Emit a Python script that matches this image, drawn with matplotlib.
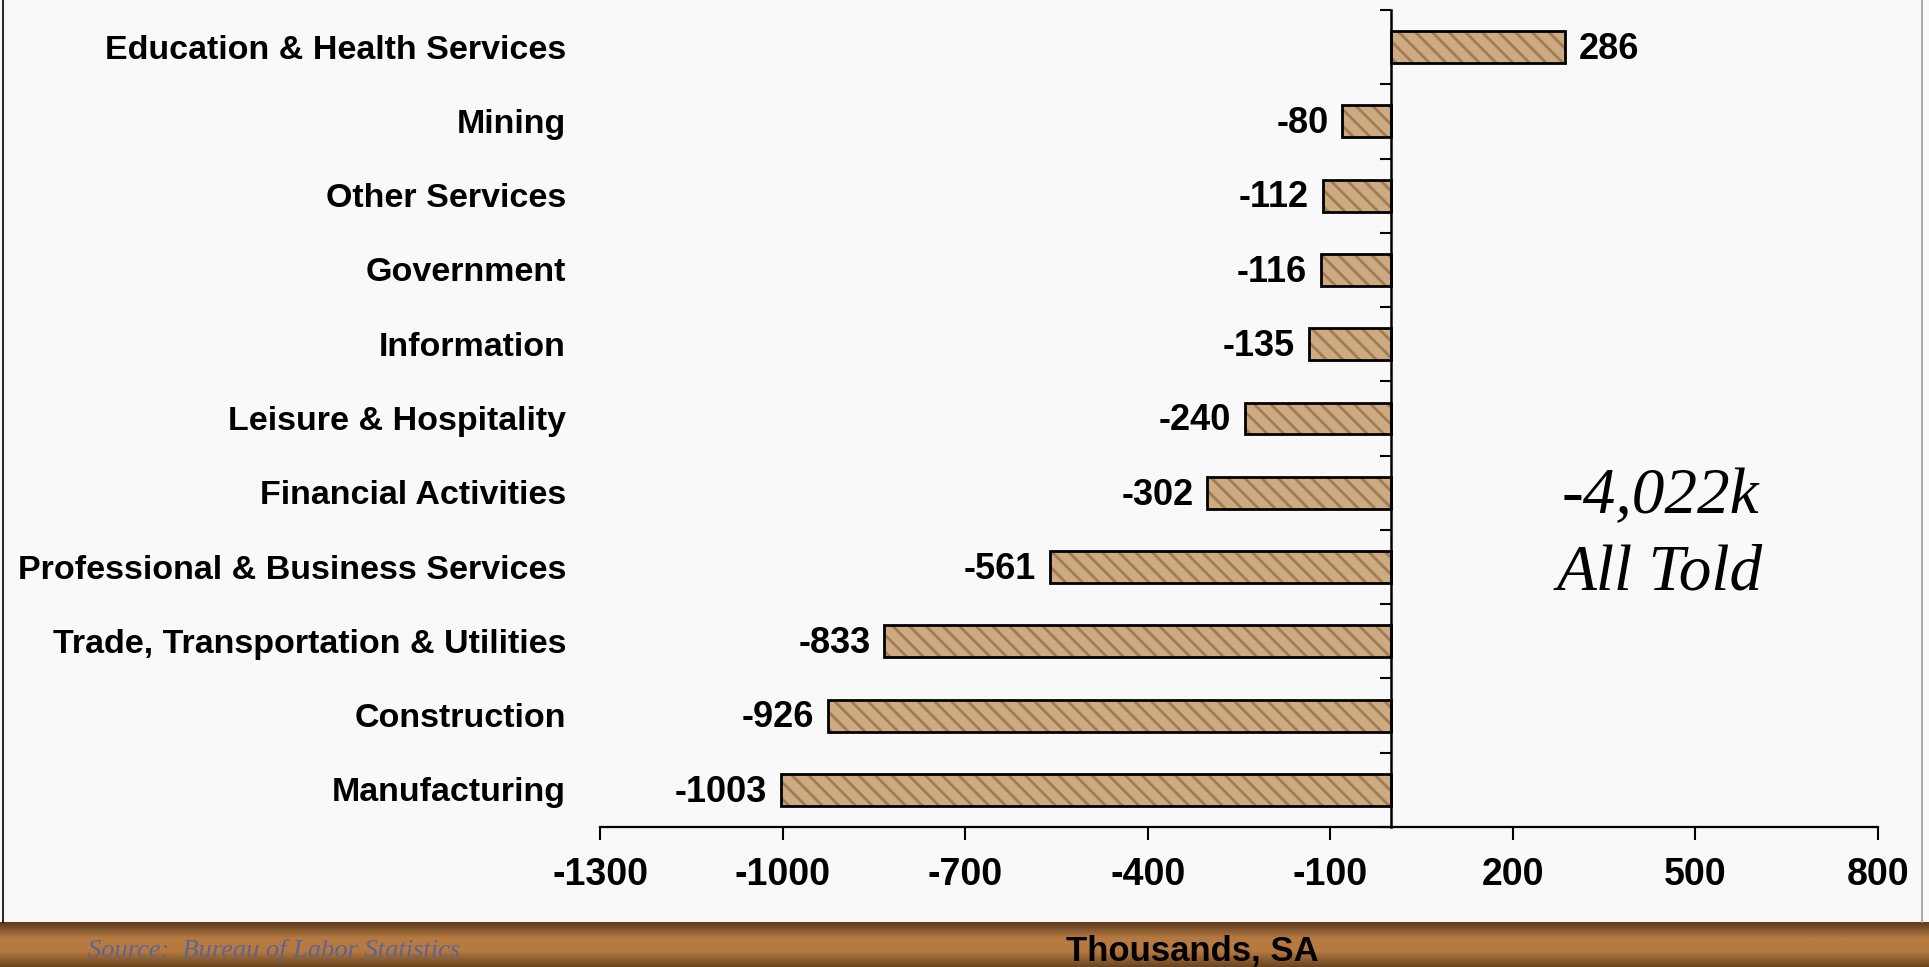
import numpy as np
import matplotlib.pyplot as plt
from matplotlib.colors import LinearSegmentedColormap
from matplotlib.lines import Line2D
from matplotlib.transforms import blended_transform_factory

plt.rcParams['font.family'] = ['Liberation Sans', 'DejaVu Sans']
plt.rcParams['hatch.linewidth'] = 2.0

# ---- data (thousands, SA), top to bottom ----
categories = ['Education & Health Services', 'Mining', 'Other Services', 'Government',
              'Information', 'Leisure & Hospitality', 'Financial Activities',
              'Professional & Business Services', 'Trade, Transportation & Utilities',
              'Construction', 'Manufacturing']
changes = [286, -80, -112, -116, -135, -240, -302, -561, -833, -926, -1003]
x_ticks = [-1300, -1000, -700, -400, -100, 200, 500, 800]
total_text = '-4,022k'
total_sub = 'All Told'

W, H = 1929, 967
fig = plt.figure(figsize=(W / 100, H / 100), dpi=100, facecolor='#F9F9F9')

# ---- main chart ----
ax = fig.add_axes([600 / W, 140 / H, 1278 / W, 817 / H])
ax.set_facecolor('none')
pos = np.arange(len(categories))
# textured fill (hatch in a darker tan), then a black outline on top
ax.barh(pos, changes, height=0.43, color='#CDAA82', edgecolor='#A27B52',
        hatch='\\\\', linewidth=0, zorder=3)
ax.barh(pos, changes, height=0.43, fill=False, edgecolor='black',
        linewidth=2, zorder=4)
ax.set_xlim(-1300, 800)
ax.set_ylim(len(categories) - 0.5, -0.5)

ax.spines[['top', 'right']].set_visible(False)
ax.spines['left'].set_position(('data', 0))
ax.spines['left'].set_linewidth(1.8)
ax.spines['left'].set_zorder(5)
ax.spines['bottom'].set_linewidth(1.6)

ax.set_xticks(x_ticks)
ax.set_xticklabels([str(t) for t in x_ticks], fontsize=27, fontweight='bold')
ax.tick_params(axis='x', direction='out', length=9.5, width=1.5, pad=12)

# y ticks sit between the bars, labels are drawn separately at the far left
bounds = np.arange(len(categories) + 1) - 0.5
ax.set_yticks(bounds)
ax.set_yticklabels([])
ax.tick_params(axis='y', direction='out', length=8, width=1.5)

trans = blended_transform_factory(ax.transAxes, ax.transData)
for i, name in enumerate(categories):
    ax.text(-0.0266, i + 0.04, name, transform=trans, ha='right', va='center',
            fontsize=24.5, fontweight='bold')

# value labels
for i, v in enumerate(changes):
    off = -10 if v < 0 else 10
    ax.annotate(str(v), xy=(v, i + 0.03), xytext=(off, 0), textcoords='offset points',
                ha='right' if v < 0 else 'left', va='center',
                fontsize=26, fontweight='bold')

# total annotation
fig.text(1660 / W, 1 - 513 / H, total_text, ha='center', va='baseline',
         fontsize=47, style='italic', family=['Liberation Serif', 'DejaVu Serif'])
fig.text(1660 / W, 1 - 590 / H, total_sub, ha='center', va='baseline',
         fontsize=47, style='italic', family=['Liberation Serif', 'DejaVu Serif'])

# ---- brown footer band ----
band = fig.add_axes([0, 0, 1, 45 / H])
cmap = LinearSegmentedColormap.from_list(
    'band', [(0, '#5B3B1E'), (0.35, '#B67A40'), (0.65, '#B67A40'), (1, '#6A4522')])
band.imshow(np.linspace(0, 1, 64).reshape(-1, 1), aspect='auto', cmap=cmap,
            extent=[0, 1, 0, 1])
band.set_axis_off()

fig.text(1192 / W, 7 / H, 'Thousands, SA', ha='center', va='baseline',
         fontsize=25, fontweight='bold')
fig.text(88 / W, 10 / H, 'Source:  Bureau of Labor Statistics', ha='left',
         va='baseline', fontsize=19, style='italic', color='#5B6496',
         family=['Liberation Serif', 'DejaVu Serif'])

# slide frame
fig.add_artist(Line2D([3 / W, 3 / W], [45 / H, 1], color='black', lw=1.2))
fig.add_artist(Line2D([1922 / W, 1922 / W], [45 / H, 1], color='#999999', lw=1.2))

fig.savefig('out.png', dpi=100, facecolor=fig.get_facecolor())
